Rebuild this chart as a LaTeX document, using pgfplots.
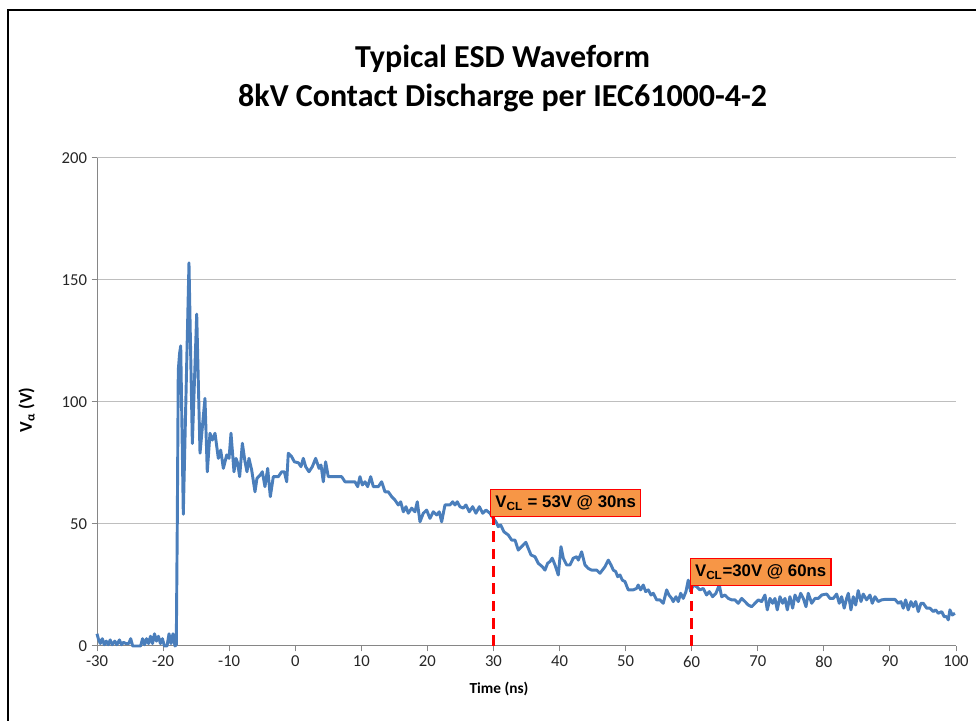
\documentclass[border=0pt]{standalone}
\usepackage{fontspec}
\setmainfont{Carlito}
\newfontfamily\arialfont{Liberation Sans}
\usepackage{pgfplots}
\pgfplotsset{compat=1.18}
\definecolor{linebl}{RGB}{74,126,187}
\definecolor{annor}{RGB}{247,150,70}
\definecolor{gridc}{RGB}{190,190,190}
\definecolor{axc}{RGB}{134,134,134}
\pgfplotstableread{
x y
-30.0 5
-29.8 3
-29.5 1
-29.2 3
-28.9 0.5
-28.6 2
-28.3 0.5
-28.0 2.5
-27.7 0.5
-27.3 2
-27.0 0.5
-26.6 2.5
-26.3 0.5
-26.0 1.5
-25.6 1
-25.2 1
-24.9 3
-24.6 0
-24.0 0
-23.4 0
-23.1 3
-22.8 0.5
-22.5 3
-22.2 1
-21.9 4
-21.6 1
-21.3 5
-21.0 2
-20.7 4
-20.4 1
-20.1 3
-19.8 0
-19.4 0
-19.1 5
-18.8 1
-18.5 5
-18.2 0
-18.0 0.5
-17.85 50
-17.7 113
-17.5 120
-17.33 123
-16.94 54
-16.08 157
-15.57 83
-14.91 136
-14.41 79
-13.66 101.5
-13.31 71.4
-12.9 87.2
-12.55 84.4
-12.14 87.2
-11.64 76.9
-11.28 80.3
-10.88 72.8
-10.37 78.3
-10.02 76.9
-9.72 87.2
-9.27 71.4
-8.96 76.9
-8.71 74.9
-8.41 69.4
-8.0 83.1
-7.6 75.5
-7.3 71.4
-7.0 76.9
-6.59 72.1
-6.09 63.2
-5.79 68.7
-5.29 70.1
-4.98 71.4
-4.58 65.3
-4.17 72.8
-3.77 61.2
-3.32 69.4
-2.56 69.4
-2.05 71.4
-1.65 71.4
-1.29 67.3
-1.05 79
-0.54 77.6
-0.14 75.5
0.47 75.1
0.87 73.5
1.22 76.9
1.58 73.5
2.08 71.4
2.59 73.5
3.09 76.9
3.6 72.8
3.9 74.2
4.25 67.3
4.6 75.5
5.0 69.4
7.03 69.4
7.53 67.3
9.04 67.3
9.45 65.3
9.8 69.4
10.15 66
10.56 67.3
10.96 65.3
11.42 69.4
11.82 65.3
12.57 65.3
13.08 67.3
13.58 63.2
14.08 63.2
14.6 61.2
15.1 59.8
15.6 57.8
15.96 59.1
16.36 55
16.76 57.1
17.11 54.4
17.62 56.5
18.12 55
18.47 59.1
18.88 50.9
19.38 54.4
19.89 55.7
20.39 52.3
20.89 55
21.41 53.7
21.8 55
22.16 50.9
22.66 57.8
23.42 57.8
23.83 59.1
24.18 57.8
24.52 59.1
24.93 57.1
25.43 56.5
25.84 57.8
26.34 55
26.85 57.1
27.35 54.4
27.86 57.1
28.37 54.4
28.87 55.7
29.47 54.4
29.97 52.3
30.38 50.9
30.73 48.9
31.09 49.6
31.59 46.8
32.24 45.5
32.76 43.4
33.26 43.4
33.76 39.3
34.5 41.4
34.9 42.5
35.27 40
35.68 37.3
36.28 36.6
36.78 33.9
37.39 32.5
37.8 31.1
38.2 33.9
38.55 34.6
38.9 36
39.31 33.2
39.81 29.1
40.22 40.7
40.57 36
41.08 33.2
41.58 33.2
42.08 36
42.6 36.6
42.84 35.2
43.35 38.6
43.85 33.2
44.35 31.8
44.86 31.1
45.62 31.1
46.12 29.8
46.88 32.5
47.38 35.2
47.79 33.2
48.14 31.1
48.5 30.5
48.8 28.4
49.15 29.1
49.5 27
49.9 26.4
50.4 23
51.16 23
51.67 23.6
51.9 25
52.28 23
52.67 25
53.03 22.3
53.43 23
53.84 20.9
54.19 21.6
54.7 18.9
55.2 18.9
55.7 17.5
56.21 23
56.56 20.9
56.97 19.5
57.21 18.2
57.62 20.2
57.97 18.2
58.33 21.6
58.72 19.5
59.13 22.3
59.48 27
59.85 22.3
60.24 25
60.75 24.3
61.25 23
61.75 23.6
62.26 20.9
62.66 22.3
63.17 20.2
63.67 21.6
64.17 25
64.53 20.2
65.03 20.9
65.54 19.5
66.05 18.9
66.55 18.9
67.05 17.5
67.56 19.5
68.06 18.2
68.56 16.8
69.08 16.1
69.58 17.5
70.08 18.9
70.59 18.2
71.09 20.9
71.44 14.8
71.85 19.5
72.25 17.5
72.6 19.5
72.95 14.8
73.36 20.2
73.77 17.5
74.12 19.5
74.47 14.8
74.87 20.2
75.28 15.5
75.63 20.9
76.13 18.2
76.49 21.6
76.89 19.5
77.3 16.1
77.64 21.6
78.16 17.5
78.66 19.5
79.16 19.5
79.67 20.9
80.43 21.3
80.93 19.5
81.43 19.5
81.94 21.3
82.33 17.5
82.69 20.2
83.08 15.5
83.45 19.5
83.7 21.6
84.1 14.8
84.45 20.2
84.82 16.8
85.2 22.7
85.62 18.2
85.96 21.3
86.47 18.9
86.98 20.9
87.33 17.5
87.74 20.2
88.24 18.2
88.75 18.9
89.25 19.1
90.77 19.1
91.27 17.5
91.67 18.2
92.02 15.5
92.38 18.9
92.77 14.8
93.18 18.2
93.53 16.1
93.9 18.2
94.29 14.1
94.7 17.5
95.05 17.5
95.56 15.5
96.06 15.5
96.56 14.1
96.92 14.8
97.32 13.4
97.83 14.1
98.22 12
98.58 12
98.83 10.7
99.08 14.8
99.43 12.7
99.84 13.4
}\esddata
\begin{document}
\begin{tikzpicture}[x=1pt,y=1pt]
\useasboundingbox (0pt,0pt) rectangle (732pt,540.75pt);
\draw[line width=2pt] (6pt,0pt) -- (6pt,533.25pt) -- (732pt,533.25pt);
\node[anchor=base, font=\fontsize{24}{29}\selectfont\bfseries] at (377pt,489.75pt) {Typical ESD Waveform};
\node[anchor=base, font=\fontsize{24}{29}\selectfont\bfseries] at (377pt,460.5pt) {8kV Contact Discharge per IEC61000-4-2};
\begin{axis}[
  at={(72.75pt,56.25pt)}, anchor=south west,
  scale only axis, width=644.25pt, height=366pt,
  xmin=-30, xmax=100, ymin=0, ymax=200,
  xtick={-30,-20,...,100}, ytick={0,50,...,200},
  axis x line*=bottom, axis y line*=left,
  axis line style={-, axc, line width=0.75pt},
  ymajorgrids, grid style={gridc, line width=0.75pt},
  tick align=outside, major tick length=4pt,
  tick style={axc, line width=0.75pt},
  /pgf/number format/assume math mode=true,
  tick label style={font=\fontsize{12.5}{14}\selectfont, text=black!85},
  xlabel={Time (ns)},
  xlabel style={font=\fontsize{11.5}{14}\selectfont\bfseries, at={(axis description cs:0.468,-0.088)}, anchor=center},
  ylabel={V\textsubscript{α} (V)},
  ylabel style={font=\fontsize{13.5}{16}\selectfont\bfseries, at={(axis description cs:-0.082,0.484)}, anchor=center},
  clip=false,
]
\addplot[linebl, line width=2.2pt, line join=round] table[x=x, y=y] {\esddata};
\addplot[red, line width=2.25pt, dash pattern=on 8pt off 5pt] coordinates {(30,0) (30,53)};
\addplot[red, line width=2.25pt, dash pattern=on 8pt off 5pt] coordinates {(60,0) (60,25)};
\node[anchor=south west, fill=annor, draw=red, line width=1pt, inner xsep=3.5pt, minimum height=20pt, font=\arialfont\fontsize{12.6}{14}\selectfont\bfseries] at (axis cs:29.5,52.9) {V\textsubscript{CL} = 53V @ 30ns};
\node[anchor=south west, fill=annor, draw=red, line width=1pt, inner xsep=3.5pt, minimum height=20pt, font=\arialfont\fontsize{12.6}{14}\selectfont\bfseries] at (axis cs:59.7,24.6) {V\textsubscript{CL}=30V @ 60ns};
\end{axis}
\end{tikzpicture}
\end{document}
